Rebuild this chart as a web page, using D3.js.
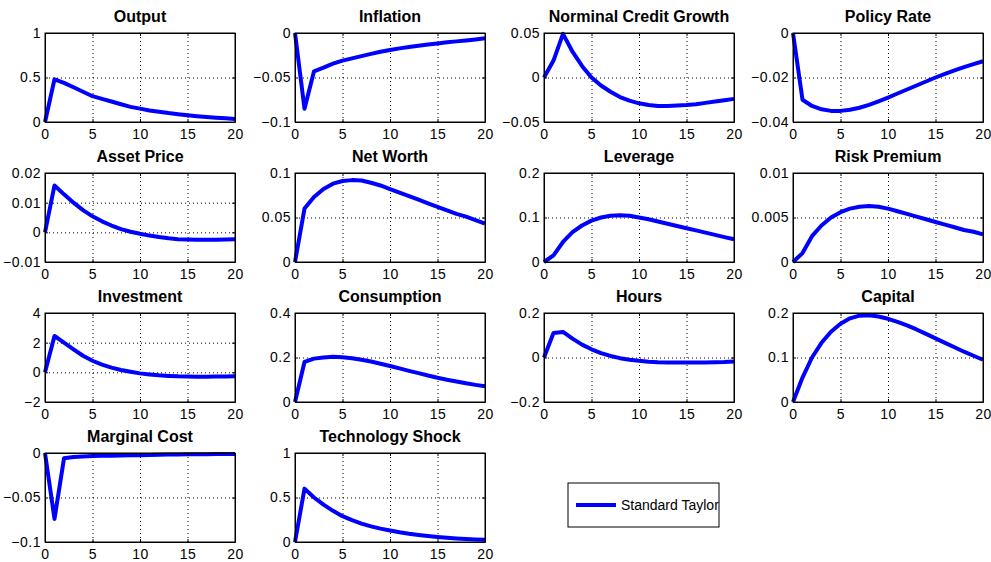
<!DOCTYPE html>
<html>
<head>
<meta charset="utf-8">
<script src="https://cdn.jsdelivr.net/npm/d3@7"></script>
<style>
  body { margin: 0; background: #fff; }
  svg { display: block; font-family: "Liberation Sans", Arial, Helvetica, sans-serif; }
</style>
</head>
<body>
<div id="chart"></div>
<script>
// impulse responses, periods 0..20
const periods = d3.range(0, 21);

const output = [0, 0.48, 0.44, 0.39, 0.34, 0.29, 0.26, 0.23, 0.20, 0.17, 0.15, 0.13, 0.115, 0.10, 0.088, 0.075, 0.065, 0.056, 0.048, 0.041, 0.035];
const inflation = [0, -0.085, -0.043, -0.039, -0.0345, -0.031, -0.0285, -0.026, -0.0235, -0.021, -0.019, -0.0173, -0.0158, -0.0143, -0.013, -0.0117, -0.0105, -0.0094, -0.0083, -0.0072, -0.006];
const creditGrowth = [0, 0.019, 0.049, 0.029, 0.013, 0.0, -0.009, -0.016, -0.022, -0.026, -0.029, -0.031, -0.032, -0.032, -0.0315, -0.031, -0.030, -0.0285, -0.027, -0.0255, -0.024];
const policyRate = [0, -0.030, -0.0328, -0.0343, -0.0350, -0.0350, -0.0345, -0.0336, -0.0323, -0.0307, -0.0290, -0.0272, -0.0254, -0.0236, -0.0218, -0.0200, -0.0184, -0.0168, -0.0153, -0.0140, -0.0127];
const assetPrice = [0, 0.0158, 0.0128, 0.0100, 0.0075, 0.0054, 0.0037, 0.0023, 0.0011, 0.0002, -0.0005, -0.0011, -0.0016, -0.0020, -0.0023, -0.0024, -0.0025, -0.0025, -0.0025, -0.0024, -0.0023];
const netWorth = [0, 0.060, 0.073, 0.082, 0.088, 0.091, 0.092, 0.0915, 0.089, 0.086, 0.082, 0.078, 0.074, 0.070, 0.066, 0.062, 0.058, 0.054, 0.051, 0.047, 0.043];
const leverage = [0, 0.015, 0.045, 0.067, 0.082, 0.093, 0.100, 0.104, 0.105, 0.104, 0.100, 0.096, 0.091, 0.086, 0.081, 0.076, 0.071, 0.066, 0.061, 0.056, 0.051];
const riskPremium = [0, 0.0010, 0.0029, 0.0041, 0.0050, 0.0056, 0.0060, 0.0062, 0.0063, 0.0062, 0.0060, 0.0057, 0.0054, 0.0051, 0.0048, 0.0045, 0.0042, 0.0039, 0.0036, 0.0034, 0.0031];
const investment = [0, 2.45, 2.0, 1.55, 1.12, 0.78, 0.52, 0.32, 0.16, 0.04, -0.07, -0.14, -0.2, -0.24, -0.27, -0.28, -0.29, -0.29, -0.28, -0.28, -0.27];
const consumption = [0, 0.18, 0.195, 0.20, 0.203, 0.201, 0.197, 0.19, 0.182, 0.172, 0.162, 0.151, 0.140, 0.130, 0.119, 0.109, 0.100, 0.092, 0.084, 0.077, 0.071];
const hours = [0, 0.11, 0.115, 0.085, 0.058, 0.037, 0.020, 0.007, -0.003, -0.010, -0.015, -0.019, -0.021, -0.022, -0.023, -0.023, -0.023, -0.022, -0.021, -0.020, -0.018];
const capital = [0, 0.055, 0.100, 0.133, 0.158, 0.176, 0.188, 0.194, 0.195, 0.192, 0.187, 0.180, 0.172, 0.163, 0.153, 0.143, 0.133, 0.123, 0.113, 0.104, 0.095];
const marginalCost = [0, -0.074, -0.006, -0.0045, -0.004, -0.0035, -0.0032, -0.003, -0.0028, -0.0026, -0.0024, -0.0022, -0.002, -0.0018, -0.0016, -0.0015, -0.0014, -0.0013, -0.0012, -0.0011, -0.001];
const techShock = [0, 0.60, 0.50, 0.42, 0.35, 0.29, 0.245, 0.207, 0.175, 0.15, 0.13, 0.11, 0.093, 0.079, 0.067, 0.056, 0.047, 0.040, 0.034, 0.029, 0.024];

const titles = ["Output", "Inflation", "Norminal Credit Growth", "Policy Rate",
  "Asset Price", "Net Worth", "Leverage", "Risk Premium",
  "Investment", "Consumption", "Hours", "Capital",
  "Marginal Cost", "Technology Shock"];
const series = [output, inflation, creditGrowth, policyRate,
  assetPrice, netWorth, leverage, riskPremium,
  investment, consumption, hours, capital,
  marginalCost, techShock];
const yTicks = [[0, 0.5, 1], [-0.1, -0.05, 0], [-0.05, 0, 0.05], [-0.04, -0.02, 0],
  [-0.01, 0, 0.01, 0.02], [0, 0.05, 0.1], [0, 0.1, 0.2], [0, 0.005, 0.01],
  [-2, 0, 2, 4], [0, 0.2, 0.4], [-0.2, 0, 0.2], [0, 0.1, 0.2],
  [-0.1, -0.05, 0], [0, 0.5, 1]];
const xTicks = [0, 5, 10, 15, 20];
const legendLabel = "Standard Taylor";

const width = 991, height = 562;
const colX = [45, 295, 544, 793];
const rowY = [33, 173, 313, 453];
const pw = 190, ph = 89;
const blue = "#0000ff";

const svg = d3.select("#chart").append("svg")
  .attr("width", width)
  .attr("height", height);

const fmt = v => String(v).replace("-", "\u2212");

titles.forEach((title, i) => {
  const vals = series[i];
  const ticks = yTicks[i];
  const g = svg.append("g")
    .attr("transform", `translate(${colX[i % 4]},${rowY[Math.floor(i / 4)]})`);

  const x = d3.scaleLinear().domain([0, 20]).range([0, pw]);
  const y = d3.scaleLinear().domain(d3.extent(ticks)).range([ph, 0]);

  // dotted grid
  g.append("g")
    .call(d3.axisBottom(x).tickValues(xTicks.slice(1, -1)).tickSize(ph).tickFormat(""))
    .call(a => a.select(".domain").remove())
    .call(a => a.selectAll("line").attr("stroke", "#000").attr("stroke-dasharray", "1,3"));
  g.append("g")
    .call(d3.axisLeft(y).tickValues(ticks.slice(1, -1)).tickSize(-pw).tickFormat(""))
    .call(a => a.select(".domain").remove())
    .call(a => a.selectAll("line").attr("stroke", "#000").attr("stroke-dasharray", "1,3"));

  // series line
  g.append("path")
    .datum(vals)
    .attr("fill", "none")
    .attr("stroke", blue)
    .attr("stroke-width", 4)
    .attr("stroke-linejoin", "round")
    .attr("d", d3.line().x((d, k) => x(periods[k])).y(d => y(d)));

  // axes with inward ticks
  g.append("g")
    .attr("transform", `translate(0,${ph})`)
    .call(d3.axisBottom(x).tickValues(xTicks).tickSize(-3).tickPadding(7).tickSizeOuter(0))
    .call(a => {
      a.selectAll("text").attr("fill", "#000").style("font-size", "14px").style("letter-spacing", "0.5px");
      a.selectAll("line").attr("stroke", "#000");
    });
  g.append("g")
    .call(d3.axisLeft(y).tickValues(ticks).tickSize(-3).tickPadding(4).tickSizeOuter(0).tickFormat(fmt))
    .call(a => {
      a.selectAll("text").attr("fill", "#000").style("font-size", "14px").style("letter-spacing", "0.5px");
      a.selectAll("line").attr("stroke", "#000");
    });
  g.append("g")
    .call(d3.axisTop(x).tickValues(xTicks).tickSize(-3).tickFormat("").tickSizeOuter(0))
    .call(a => a.selectAll("line").attr("stroke", "#000"));
  g.append("g")
    .attr("transform", `translate(${pw},0)`)
    .call(d3.axisRight(y).tickValues(ticks).tickSize(-3).tickFormat("").tickSizeOuter(0))
    .call(a => a.selectAll("line").attr("stroke", "#000"));

  g.append("rect")
    .attr("width", pw).attr("height", ph)
    .attr("fill", "none").attr("stroke", "#000").attr("stroke-width", 1);

  g.append("text")
    .attr("x", pw / 2).attr("y", -11)
    .attr("text-anchor", "middle")
    .style("font-size", "16px")
    .style("font-weight", "bold")
    .text(title);
});

// legend
const lg = svg.append("g").attr("transform", "translate(568,483)");
lg.append("rect").attr("width", 151).attr("height", 44)
  .attr("fill", "#fff").attr("stroke", "#000");
lg.append("line").attr("x1", 8).attr("x2", 48).attr("y1", 22).attr("y2", 22)
  .attr("stroke", blue).attr("stroke-width", 4);
lg.append("text").attr("x", 53).attr("y", 27)
  .style("font-size", "14px")
  .text(legendLabel);
</script>
</body>
</html>
